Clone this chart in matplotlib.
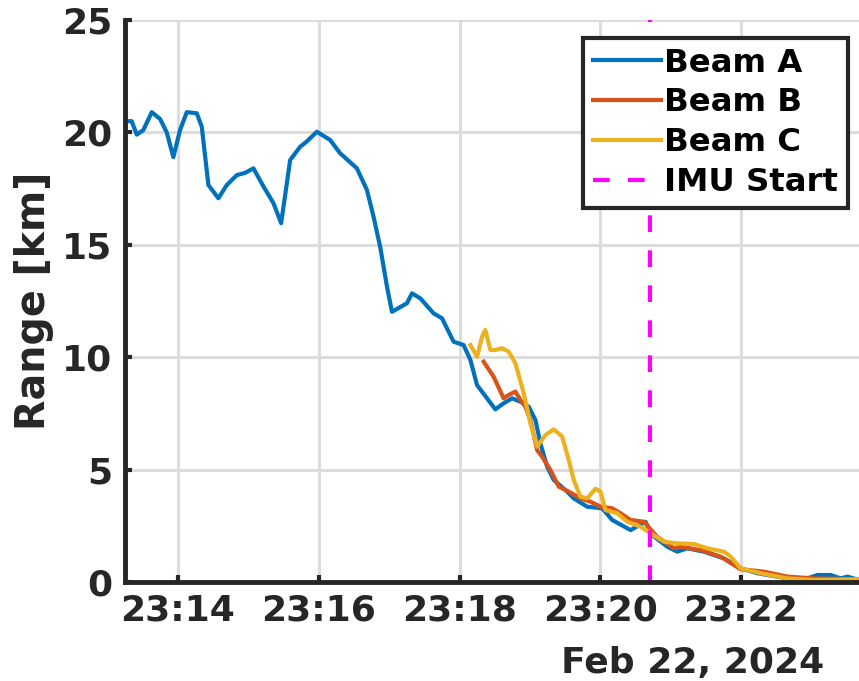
import matplotlib
matplotlib.use("Agg")
import matplotlib.pyplot as plt
import matplotlib.dates as mdates
from datetime import datetime, timedelta

# minutes after 23:00 on Feb 22, 2024 / range in km
beam_a_t = [13.246, 13.341, 13.413, 13.506, 13.626, 13.744, 13.839, 13.933, 14.028, 14.124,
            14.266, 14.337, 14.431, 14.573, 14.693, 14.835, 14.953, 15.071, 15.213, 15.356,
            15.465, 15.593, 15.735, 15.831, 15.973, 16.162, 16.304, 16.542, 16.684, 16.778,
            16.873, 16.969, 17.040, 17.253, 17.324, 17.442, 17.632, 17.751, 17.916, 18.058,
            18.154, 18.249, 18.391, 18.509, 18.627, 18.747, 18.865, 18.983, 19.078, 19.149,
            19.245, 19.339, 19.529, 19.623, 19.814, 20.027, 20.169, 20.430, 20.643, 20.738,
            20.952, 21.094, 21.236, 21.472, 21.757, 21.994, 22.232, 22.659, 22.943, 23.085,
            23.275, 23.417, 23.512, 23.677]
beam_a_r = [20.5, 20.5, 19.9, 20.1, 20.9, 20.6, 20.0, 18.9, 20.1, 20.9,
            20.85, 20.25, 17.66, 17.07, 17.66, 18.1, 18.2, 18.4, 17.6, 16.85,
            15.96, 18.77, 19.36, 19.6, 20.03, 19.66, 19.07, 18.4, 17.44, 16.25,
            14.9, 13.14, 12.02, 12.4, 12.84, 12.62, 11.95, 11.73, 10.69, 10.54,
            9.88, 8.76, 8.17, 7.68, 7.95, 8.17, 8.02, 7.80, 7.21, 6.17,
            5.13, 4.54, 4.02, 3.72, 3.35, 3.28, 2.76, 2.31, 2.68, 2.09,
            1.57, 1.35, 1.50, 1.35, 1.05, 0.61, 0.39, 0.16, 0.16, 0.31,
            0.31, 0.16, 0.24, 0.09]

beam_b_t = [18.343, 18.485, 18.627, 18.698, 18.794, 18.865, 18.936, 19.007, 19.102, 19.174,
            19.292, 19.410, 19.552, 19.718, 19.861, 20.003, 20.169, 20.287, 20.430, 20.619,
            20.809, 21.046, 21.141, 21.425, 21.710, 21.994, 22.326, 22.659, 23.037, 23.677]
beam_b_r = [9.80, 9.13, 8.17, 8.32, 8.47, 8.10, 7.80, 7.21, 5.87, 5.57,
            4.98, 4.24, 4.02, 3.72, 3.57, 3.35, 3.28, 3.06, 2.76, 2.68,
            2.01, 1.50, 1.57, 1.42, 1.13, 0.57, 0.46, 0.24, 0.16, 0.12]

beam_c_t = [18.154, 18.249, 18.320, 18.367, 18.438, 18.509, 18.605, 18.698, 18.794, 18.912,
            19.007, 19.102, 19.221, 19.339, 19.458, 19.552, 19.623, 19.718, 19.814, 19.932,
            20.003, 20.074, 20.240, 20.383, 20.572, 20.714, 20.904, 21.094, 21.330, 21.521,
            21.757, 21.852, 21.994, 22.279, 22.659, 23.037, 23.677]
beam_c_r = [10.54, 10.02, 10.91, 11.21, 10.32, 10.32, 10.40, 10.25, 9.73, 8.40,
            7.06, 6.02, 6.54, 6.79, 6.47, 5.43, 4.54, 3.80, 3.72, 4.15,
            4.02, 3.20, 3.06, 2.68, 2.46, 2.17, 1.79, 1.72, 1.69, 1.50,
            1.35, 1.13, 0.61, 0.39, 0.16, 0.09, 0.12]

imu_start = 20.70
y_ticks = [0, 5, 10, 15, 20, 25]

base = datetime(2024, 2, 22, 23, 0)
def to_time(mins):
    return [base + timedelta(minutes=m) for m in mins]

dark = "#262626"
plt.rcParams["font.family"] = "DejaVu Sans"
plt.rcParams["font.weight"] = "bold"

fig = plt.figure(figsize=(8.59, 6.81), dpi=100)
ax = fig.add_axes([125 / 859, 99 / 681, 734 / 859, 562 / 681])

ax.plot(to_time(beam_a_t), beam_a_r, color="#0072BD", lw=3, label="Beam A")
ax.plot(to_time(beam_b_t), beam_b_r, color="#D95319", lw=3, label="Beam B")
ax.plot(to_time(beam_c_t), beam_c_r, color="#EDB120", lw=3, label="Beam C")
imu = to_time([imu_start, imu_start])
ax.plot(imu, [0, 25], color="#FF00FF", lw=3, linestyle=(0, (4.0, 4.4)), label="IMU Start")

ax.set_xlim(to_time([beam_a_t[0]])[0], to_time([beam_a_t[-1]])[0])
ax.set_ylim(0, 25)
ax.set_yticks(y_ticks)
ax.xaxis.set_major_locator(mdates.MinuteLocator(byminute=range(0, 60, 2)))
ax.xaxis.set_major_formatter(mdates.DateFormatter("%H:%M"))

ax.grid(True, color="#dcdcdc", lw=2.2)
ax.set_axisbelow(True)
for s in ["top", "right"]:
    ax.spines[s].set_visible(False)
for s in ["left", "bottom"]:
    ax.spines[s].set_color(dark)
    ax.spines[s].set_linewidth(3.5)
ax.tick_params(direction="in", length=5, width=3, color=dark, labelcolor=dark,
               labelsize=26)
ax.tick_params(axis="x", pad=8)
ax.tick_params(axis="y", pad=9)
for lab in ax.get_xticklabels() + ax.get_yticklabels():
    lab.set_fontweight("bold")

ax.set_ylabel("Range [km]", fontsize=28.5, fontweight="bold", color=dark, labelpad=6)

fig.text(824 / 859, 1 - 673 / 681, "Feb 22, 2024", ha="right", va="baseline",
         fontsize=26, fontweight="bold", color=dark)

leg = ax.legend(loc="upper right", bbox_to_anchor=(848 / 859, 1 - 38 / 681),
                bbox_transform=fig.transFigure, borderaxespad=0,
                prop={"size": 23.3, "weight": "bold"}, handlelength=2.1,
                handletextpad=0.12, labelspacing=0.27, borderpad=0.3,
                fancybox=False, framealpha=1)
leg.get_frame().set_edgecolor(dark)
leg.get_frame().set_linewidth(3)

fig.savefig("out.png", dpi=100)
